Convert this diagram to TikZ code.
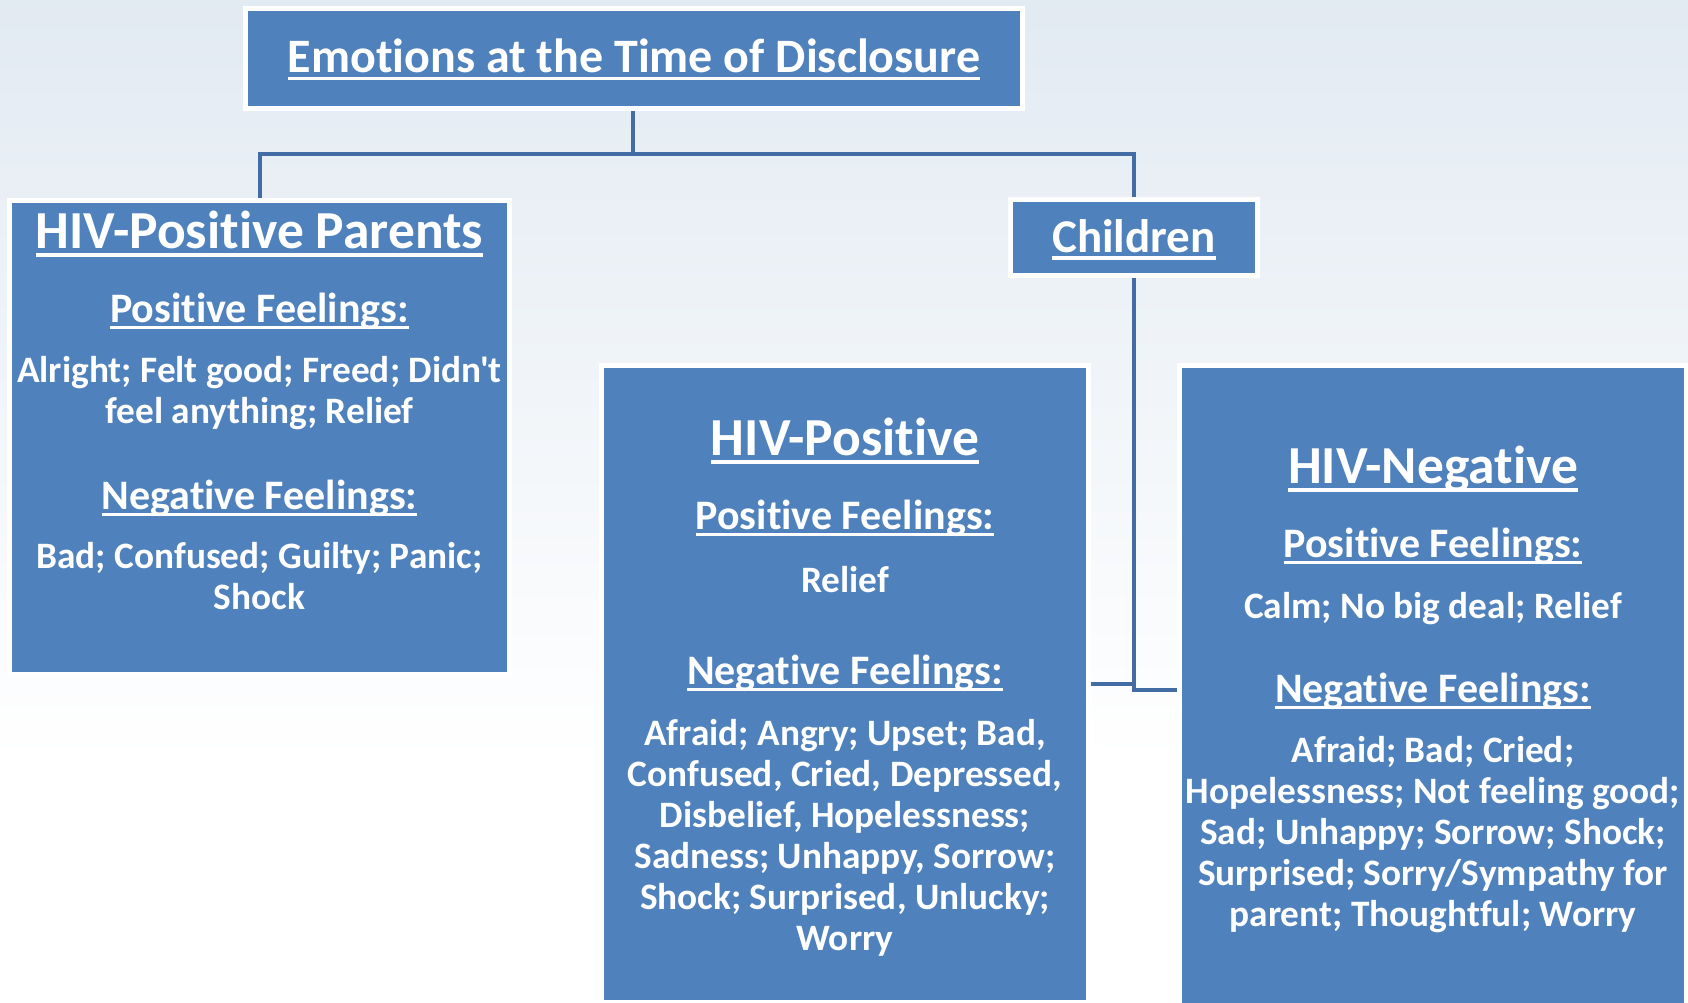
\documentclass[tikz,border=0pt]{standalone}
\usepackage{fontspec}
\newfontfamily\carl{Carlito}[Ligatures={NoCommon,NoContextual}]
\definecolor{boxblue}{RGB}{79,129,189}
\definecolor{linecol}{RGB}{66,108,163}
\definecolor{bgtop}{RGB}{226,234,242}
\newcommand\myul[1]{\setbox0=\hbox{#1}\rlap{\rule[-0.16em]{\wd0}{0.065em}}\box0}
\tikzset{
  box/.style={draw=white, line width=5pt, fill=boxblue, inner sep=0pt},
  conn/.style={draw=linecol, line width=4pt},
  txt/.style={text=white, inner sep=0pt, anchor=base, font=\carl\bfseries},
  ttl/.style={txt, font=\carl\bfseries\fontsize{53.5}{60}\selectfont},
  hdg/.style={txt, font=\carl\bfseries\fontsize{42}{48}\selectfont},
  bdy/.style={txt, font=\carl\bfseries\fontsize{37.3}{41}\selectfont},
}
\begin{document}
\begin{tikzpicture}[x=1pt,y=-1pt]
\useasboundingbox (0,0) rectangle (1688,1002);
\shade[top color=bgtop, bottom color=white] (0,0) rectangle (1688,760);
\fill[white] (0,760) rectangle (1688,1002);
\begin{scope}
\clip (0,0) rectangle (1688,1002);
% boxes
\node[box, minimum width=777pt, minimum height=100pt] (top) at (634,58.5) {};
\node[box, minimum width=500pt, minimum height=474pt] (par) at (259.5,437.5) {};
\node[box, minimum width=247pt, minimum height=76pt] (chi) at (1134,237.5) {};
\node[box, minimum width=487pt, minimum height=637pt] (mid) at (845,684) {};
\node[box, minimum width=507pt, minimum height=649pt] (neg) at (1433,690) {};
\end{scope}
% connectors
\coordinate (j1) at (633,154);
\draw[conn] (top.south -| j1) -- (j1);
\draw[conn] (par.north) |- (j1) -| (chi.north);
\draw[conn] (chi.south) |- (mid.east);
\draw[conn] (chi.south) |- (neg.west);
% top title
\node[txt, font=\carl\bfseries\fontsize{48}{55}\selectfont] (tt) at (634,72) {\myul{Emotions at the Time of Disclosure}};
\node[txt, font=\carl\bfseries\fontsize{47}{55}\selectfont] (ct) at (1134,252) {\myul{Children}};
% parents
\node[ttl] (pt) at (259.5,248) {\myul{HIV-Positive Parents}};
\node[hdg] (ph1) at (259.5,322) {\myul{Positive Feelings:}};
\node[bdy] (pb1) at (259.5,382) {Alright; Felt good; Freed; Didn't};
\node[bdy] (pb2) at (259.5,423) {feel anything; Relief};
\node[hdg] (ph2) at (259.5,509) {\myul{Negative Feelings:}};
\node[bdy] (pb3) at (259.5,568) {Bad; Confused; Guilty; Panic;};
\node[bdy] (pb4) at (259.5,609) {Shock};
% HIV-positive children
\node[ttl] (mt) at (845,455) {\myul{HIV-Positive}};
\node[hdg] (mh1) at (845,529) {\myul{Positive Feelings:}};
\node[bdy] (mb0) at (845,592) {Relief};
\node[hdg] (mh2) at (845,684) {\myul{Negative Feelings:}};
\foreach \t [count=\i] in {{Afraid; Angry; Upset; Bad,},{Confused, Cried, Depressed,},{Disbelief, Hopelessness;},{Sadness; Unhappy, Sorrow;},{Shock; Surprised, Unlucky;},{Worry}}
  \node[bdy] (mb\i) at (845,704+41*\i) {\t};
% HIV-negative children
\node[ttl] (nt) at (1433,483) {\myul{HIV-Negative}};
\node[hdg] (nh1) at (1433,557) {\myul{Positive Feelings:}};
\node[bdy] (nb0) at (1433,618) {Calm; No big deal; Relief};
\node[hdg] (nh2) at (1433,702) {\myul{Negative Feelings:}};
\foreach \t [count=\i] in {{Afraid; Bad; Cried;},{Hopelessness; Not feeling good;},{Sad; Unhappy; Sorrow; Shock;},{Surprised; Sorry/Sympathy for},{parent; Thoughtful; Worry}}
  \node[bdy] (nb\i) at (1433,721+41*\i) {\t};
\end{tikzpicture}
\end{document}
